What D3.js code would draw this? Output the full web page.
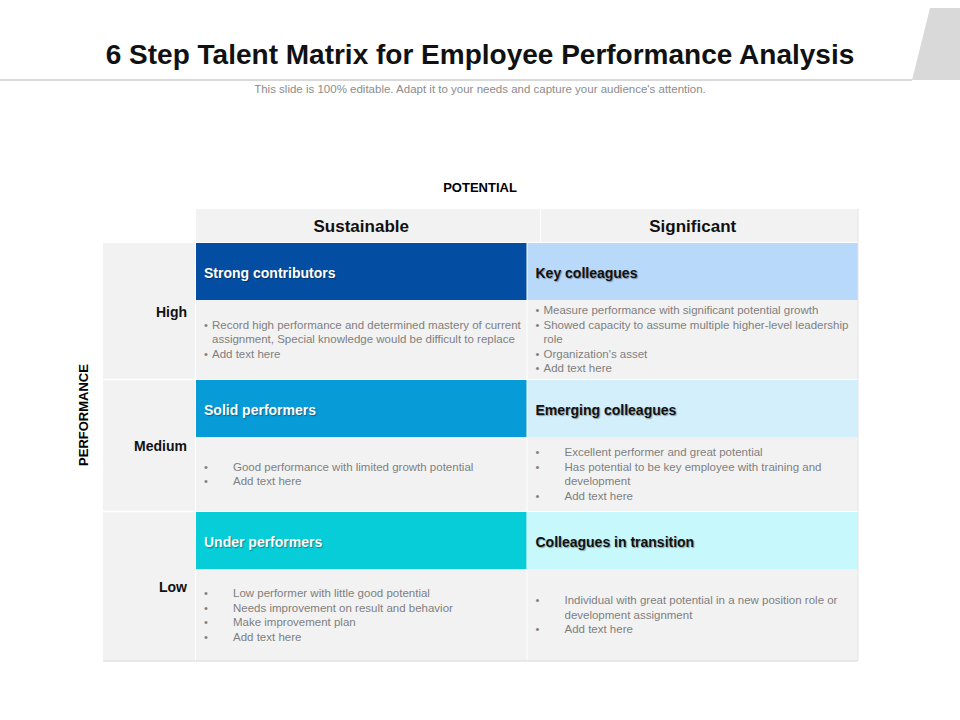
<!DOCTYPE html>
<html><head><meta charset="utf-8">
<script src="https://cdn.jsdelivr.net/npm/d3@7"></script>
<style>body{margin:0;background:#fff}</style>
</head><body><div id="chart"></div>
<script>
var columns = ["Sustainable", "Significant"];
var rows = ["High", "Medium", "Low"];
var titles = [
  ["Strong contributors", "Key colleagues"],
  ["Solid performers", "Emerging colleagues"],
  ["Under performers", "Colleagues in transition"]
];
var bandColors = [
  ["#034ea2", "#b9d9fb"],
  ["#079bd8", "#d2effb"],
  ["#07cdd9", "#c6f8fc"]
];
var darkTitle = [[false, true], [false, true], [false, true]];
// each bullet: [text, isContinuation]
var bullets = [
  [[["Record high performance and determined mastery of current", 0], ["assignment, Special knowledge would be difficult  to replace", 1], ["Add text here", 0]],
   [["Measure performance with significant  potential growth", 0], ["Showed capacity to assume multiple  higher-level leadership", 0], ["role", 1], ["Organization's  asset", 0], ["Add text here", 0]]],
  [[["Good performance with limited  growth potential", 0], ["Add text here", 0]],
   [["Excellent  performer and great potential", 0], ["Has  potential to be key employee with training  and", 0], ["development", 1], ["Add text here", 0]]],
  [[["Low performer with little  good potential", 0], ["Needs improvement  on result and behavior", 0], ["Make improvement plan", 0], [" Add text here", 0]],
   [["Individual  with  great potential in a new position role or", 0], ["development  assignment", 1], ["Add text here", 0]]]
];
var wideBullet = [[false, false], [true, true], [true, true]];

var svg = d3.select("#chart").append("svg").attr("width", 960).attr("height", 720);
var font = "'Liberation Sans Narrow', 'Liberation Sans', Arial, sans-serif";

// title area
svg.append("path").attr("d", "M930,8 L960,8 L960,80 L912,80 Z").attr("fill", "#d9d9d9");
svg.append("line").attr("x1", 0).attr("x2", 912).attr("y1", 80).attr("y2", 80).attr("stroke", "#d9d9d9").attr("stroke-width", 2);
svg.append("text").attr("x", 480).attr("y", 64).attr("text-anchor", "middle")
  .attr("font-family", font).attr("font-weight", "bold").attr("font-size", 28).attr("fill", "#111")
  .text("6 Step Talent Matrix for Employee Performance Analysis");
svg.append("text").attr("x", 480).attr("y", 93).attr("text-anchor", "middle")
  .attr("font-family", font).attr("font-size", 11.5).attr("fill", "#8c8c8c")
  .text("This slide is 100% editable. Adapt it to your needs and capture your audience's attention.");

var x = d3.scaleBand().domain(columns).range([196, 858]).paddingInner(0.003);
var y = d3.scaleBand().domain(rows).range([243, 661]);
var rowTops = {High: 243, Medium: 380, Low: 512};
var rowBottoms = {High: 379, Medium: 511, Low: 661};
var bandH = 57;

svg.append("text").attr("x", 480).attr("y", 192).attr("text-anchor", "middle")
  .attr("font-family", "'Liberation Sans', Arial").attr("font-weight", "bold").attr("font-size", 13).text("POTENTIAL");

svg.append("rect").attr("x", 196).attr("y", 209).attr("width", 662).attr("height", 33).attr("fill", "#f2f2f2");
columns.forEach(function (c) {
  svg.append("text").attr("x", x(c) + x.bandwidth() / 2).attr("y", 232).attr("text-anchor", "middle")
    .attr("font-family", "'Liberation Sans', Arial").attr("font-weight", "bold").attr("font-size", 17).attr("fill", "#111").text(c);
});
svg.append("line").attr("x1", 540.5).attr("x2", 540.5).attr("y1", 209).attr("y2", 242).attr("stroke", "#fff");

// left label column
svg.append("rect").attr("x", 103).attr("y", 243).attr("width", 92).attr("height", 418).attr("fill", "#f2f2f2");
var labelY = {High: 317, Medium: 451, Low: 592};
rows.forEach(function (r, i) {
  svg.append("text").attr("x", 187).attr("y", labelY[r]).attr("text-anchor", "end")
    .attr("font-family", "'Liberation Sans', Arial").attr("font-weight", "bold").attr("font-size", 14).attr("fill", "#111").text(r);
  if (i > 0) svg.append("line").attr("x1", 103).attr("x2", 858).attr("y1", rowTops[r] - 0.5).attr("y2", rowTops[r] - 0.5).attr("stroke", "#fff").attr("stroke-width", 1.5);
});
svg.append("text").attr("transform", "translate(88,415) rotate(-90)").attr("text-anchor", "middle")
  .attr("font-family", "'Liberation Sans', Arial").attr("font-weight", "bold").attr("font-size", 13).text("PERFORMANCE");

rows.forEach(function (r, i) {
  columns.forEach(function (c, j) {
    var x0 = x(c), w = x.bandwidth(), top = rowTops[r];
    svg.append("rect").attr("x", x0).attr("y", top).attr("width", w).attr("height", bandH).attr("fill", bandColors[i][j]);
    svg.append("rect").attr("x", x0).attr("y", top + bandH).attr("width", w).attr("height", rowBottoms[r] - top - bandH).attr("fill", "#f2f2f2");
    svg.append("text").attr("x", x0 + 8).attr("y", top + 35)
      .attr("font-family", "'Liberation Sans', Arial").attr("font-weight", "bold").attr("font-size", 14)
      .attr("fill", darkTitle[i][j] ? "#111" : "#fff")
      .style("text-shadow", "1px 1px 1px rgba(0,0,0,0.35)")
      .text(titles[i][j]);
    var lines = bullets[i][j];
    var lh = 14.5;
    var bodyTop = top + bandH, bodyH = rowBottoms[r] - bodyTop;
    var startY = bodyTop + bodyH / 2 - (lines.length * lh) / 2 + 11;
    var bx = x0 + 8, tx = wideBullet[i][j] ? x0 + 37 : x0 + 16;
    lines.forEach(function (l, k) {
      var yy = startY + k * lh;
      if (!l[1]) svg.append("text").attr("x", bx).attr("y", yy).attr("font-family", font).attr("font-size", 11).attr("fill", "#7f7f7f").text("•");
      svg.append("text").attr("x", tx).attr("y", yy).attr("font-family", font).attr("font-size", 11.5).attr("fill", "#7f7f7f").text(l[0]);
    });
  });
});
svg.append("line").attr("x1", 103).attr("x2", 858).attr("y1", 661).attr("y2", 661).attr("stroke", "#d9d9d9");
svg.append("line").attr("x1", 858).attr("x2", 858).attr("y1", 209).attr("y2", 661).attr("stroke", "#e4e4e4");
</script></body></html>
